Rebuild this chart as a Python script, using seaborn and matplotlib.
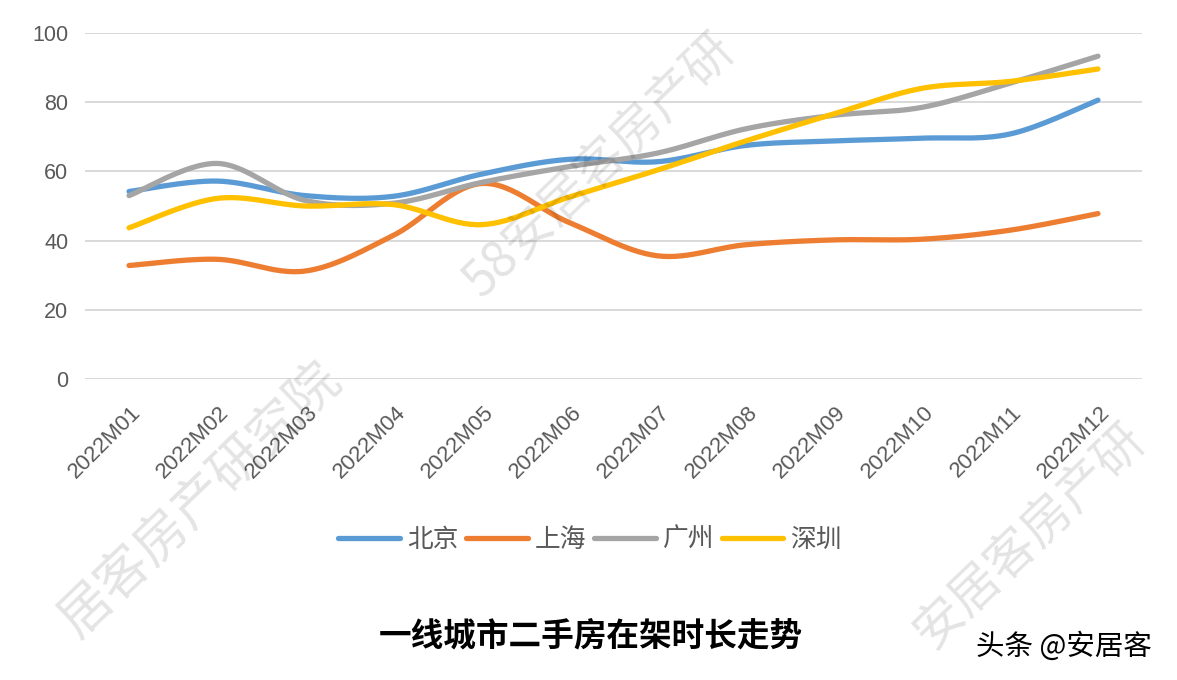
import numpy as np
import pandas as pd
import matplotlib
matplotlib.use("Agg")
import matplotlib.pyplot as plt
from matplotlib.lines import Line2D
from matplotlib.transforms import ScaledTranslation
import seaborn as sns

# ---- data ----
months = ["2022M01", "2022M02", "2022M03", "2022M04", "2022M05", "2022M06",
          "2022M07", "2022M08", "2022M09", "2022M10", "2022M11", "2022M12"]
cities = ["北京", "上海", "广州", "深圳"]
beijing = [54.2, 57.2, 53.0, 52.8, 59.2, 63.5, 62.8, 67.5, 68.8, 69.6, 70.8, 80.6]
shanghai = [32.8, 34.6, 31.2, 41.5, 56.5, 45.2, 35.6, 38.8, 40.2, 40.4, 43.0, 47.8]
guangzhou = [53.0, 62.3, 51.6, 50.8, 56.8, 61.4, 65.3, 72.3, 76.2, 78.5, 85.5, 93.3]
shenzhen = [43.7, 52.2, 50.0, 50.4, 44.6, 52.6, 60.4, 68.8, 76.6, 84.0, 86.0, 89.6]
colors = ["#5B9BD5", "#ED7D31", "#A5A5A5", "#FFC000"]
title = "一线城市二手房在架时长走势"
watermark_main = "58安居客房产研"
watermark_left = "居客房产研究院"
watermark_right = "安居客房产研"
credit = "头条 @安居客"

series = dict(zip(cities, [beijing, shanghai, guangzhou, shenzhen]))


def smooth(xs, ys, n=30):
    """Catmull-Rom rendering of the points (like a spreadsheet 'smoothed line')."""
    P = np.column_stack([xs, ys]).astype(float)
    P = np.vstack([P[0], P, P[-1]])
    out = []
    t = np.linspace(0, 1, n, endpoint=False)
    for i in range(1, len(P) - 2):
        p0, p1, p2, p3 = P[i - 1], P[i], P[i + 1], P[i + 2]
        tt = t[:, None]
        seg = 0.5 * ((2 * p1) + (-p0 + p2) * tt + (2 * p0 - 5 * p1 + 4 * p2 - p3) * tt ** 2
                     + (-p0 + 3 * p1 - 3 * p2 + p3) * tt ** 3)
        out.append(seg)
    out.append(P[-2][None, :])
    return np.vstack(out)


rows = []
for c in cities:
    s = smooth(np.arange(len(months)), series[c])
    rows.append(pd.DataFrame({"x": s[:, 0], "y": s[:, 1], "city": c}))
df = pd.concat(rows, ignore_index=True)

sns.set_theme(style="white")
plt.rcParams["font.family"] = ["Noto Sans CJK SC", "DejaVu Sans"]

fig = plt.figure(figsize=(11.77, 6.80), dpi=100)
ax = fig.add_axes([85 / 1177, 1 - 379 / 680, (1142 - 85) / 1177, (379 - 33) / 680])

sns.lineplot(data=df, x="x", y="y", hue="city", palette=dict(zip(cities, colors)),
             estimator=None, sort=False, linewidth=3.8, ax=ax, legend=False,
             solid_capstyle="round", zorder=3)

ax.set_xlim(-0.5, len(months) - 0.5)
ax.set_ylim(0, 100)
ax.set_yticks(range(0, 101, 20))
ax.set_xticks(range(len(months)))
ax.set_xticklabels(months, rotation=45, ha="right", va="center", rotation_mode="anchor")
ax.set_xlabel("")
ax.set_ylabel("")
ax.tick_params(axis="y", labelsize=15.5, labelcolor="#595959", length=0, pad=12)
ax.tick_params(axis="x", labelsize=16, labelcolor="#595959", length=0, pad=22)
offset = ScaledTranslation(9 / 100, 0, fig.dpi_scale_trans)
for lab in ax.get_xticklabels():
    lab.set_fontfamily(["Liberation Sans", "DejaVu Sans"])
    lab.set_transform(lab.get_transform() + offset)
for lab in ax.get_yticklabels():
    lab.set_fontfamily(["Liberation Sans", "DejaVu Sans"])
ax.yaxis.grid(True, color="#D9D9D9", linewidth=1.4, zorder=0)
ax.xaxis.grid(False)
for sp in ax.spines.values():
    sp.set_visible(False)
ax.set_axisbelow(True)

handles = [Line2D([0], [0], color=col, lw=3.8, solid_capstyle="round") for col in colors]
fig.legend(handles, cities, loc="center", bbox_to_anchor=(590 / 1177, 1 - 540 / 680),
           ncol=4, frameon=False, fontsize=18.5, handlelength=2.4, handletextpad=0.27,
           columnspacing=0.3, labelcolor="#595959")

fig.text(591 / 1177, 1 - 636 / 680, title, ha="center", va="center",
         fontsize=23.5, fontweight="bold", color="black")

fig.text(1064 / 1177, 1 - 647 / 680, credit, ha="center", va="center",
         fontsize=20.5, color="black")

# faint diagonal watermarks (kept inside the canvas)
for (txt, cx, cy, fs) in [(watermark_main, 600, 165, 36),
                          (watermark_left, 200, 500, 38),
                          (watermark_right, 1030, 535, 36)]:
    fig.text(cx / 1177, 1 - cy / 680, txt, ha="center", va="center",
             rotation=44, rotation_mode="anchor", fontsize=fs, color="black",
             alpha=0.11, zorder=10)

fig.savefig("out.png", dpi=100)
